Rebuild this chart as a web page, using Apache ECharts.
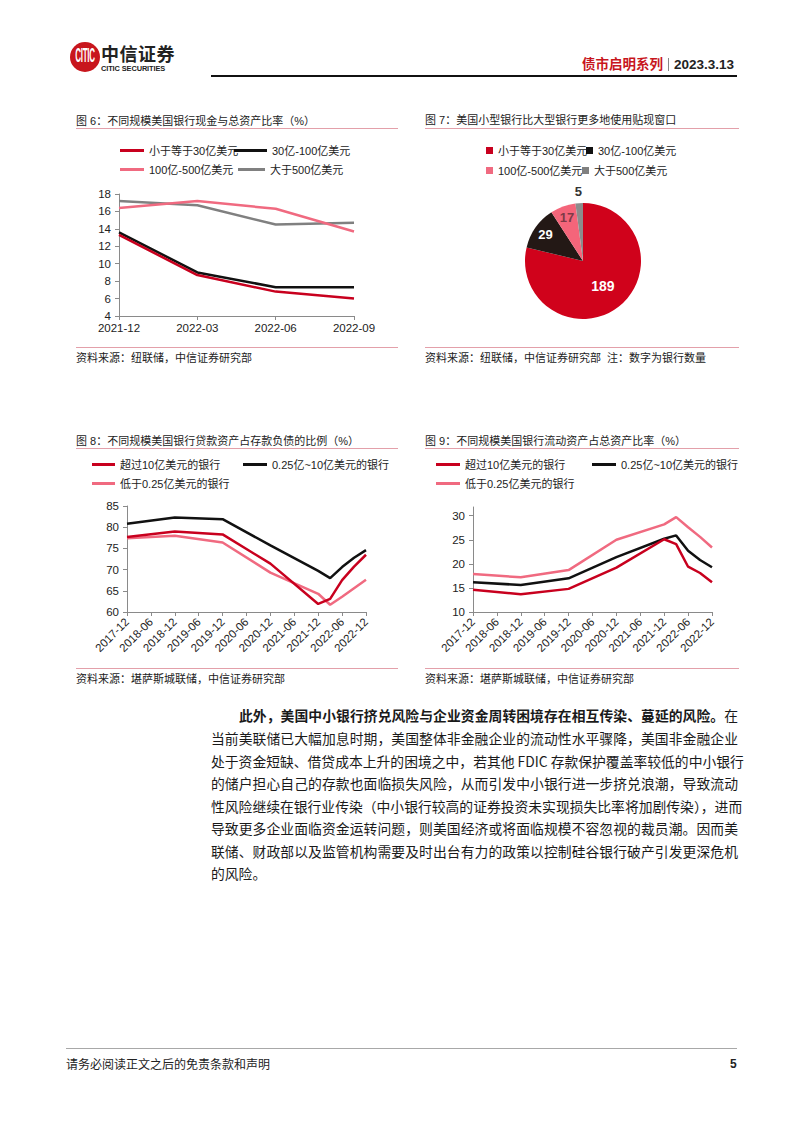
<!DOCTYPE html>
<html>
<head>
<meta charset="utf-8">
<script src="https://cdn.jsdelivr.net/npm/echarts@6/dist/echarts.min.js"></script>
<style>
html,body{margin:0;padding:0;background:#fff;}
body{width:802px;height:1133px;position:relative;overflow:hidden;font-family:"Noto Sans CJK SC","Liberation Sans",sans-serif;color:#222;}
#chart{position:absolute;left:0;top:0;width:802px;height:1133px;}
.abs{position:absolute;white-space:nowrap;}
.t11{font-size:11px;line-height:14px;height:14px;font-family:"Liberation Sans","Noto Sans CJK SC",sans-serif;color:#222;}
.hr{position:absolute;height:0;}
.para{position:absolute;left:211px;width:527px;height:22px;line-height:22px;font-size:13.8px;text-align:justify;text-align-last:justify;white-space:nowrap;color:#1a1a1a;}
</style>
</head>
<body>
<div id="chart"></div>

<!-- header -->
<div class="abs" style="left:70px;top:42px;width:30px;height:30px;border-radius:50%;background:#C8161D;overflow:hidden;">
  <div style="position:absolute;left:0;top:9px;width:30px;text-align:center;color:#fff;font:bold 8px 'Liberation Sans Narrow','Liberation Sans',sans-serif;letter-spacing:-0.3px;transform:scaleY(2.6);">CITIC</div>
</div>
<div class="abs" style="left:101px;top:44px;font-size:18px;line-height:19px;height:19px;font-weight:bold;color:#222;letter-spacing:0.5px;">中信证券</div>
<div class="abs" style="left:101px;top:64px;font:bold 7.4px/9px 'Liberation Sans Narrow','Liberation Sans',sans-serif;color:#222;letter-spacing:-0.1px;">CITIC SECURITIES</div>
<div class="abs" style="right:68px;top:54px;line-height:18px;font-size:13.5px;">
  <span style="color:#C8161D;font-weight:bold;">债市启明系列</span><span style="display:inline-block;width:1px;height:13px;background:#888;margin:0 5px;vertical-align:-2px;"></span><span style="font-weight:bold;font-family:'Liberation Sans Narrow','Liberation Sans',sans-serif;font-size:13.5px;color:#222;">2023.3.13</span>
</div>
<div class="hr" style="left:211px;top:75px;width:526px;border-top:2.5px solid #111;"></div>

<!-- chart titles / sources -->
<div class="abs t11" style="left:76px;top:114px;">图 6：不同规模美国银行现金与总资产比率（%）</div>
<div class="hr" style="left:76px;top:128px;width:322px;border-top:1px solid #E3A0AA;"></div>
<div class="abs t11" style="left:425px;top:113px;">图 7：美国小型银行比大型银行更多地使用贴现窗口</div>
<div class="hr" style="left:425px;top:128px;width:314px;border-top:1px solid #E3A0AA;"></div>

<div class="hr" style="left:76px;top:347px;width:322px;border-top:1px solid #E3A0AA;"></div>
<div class="abs t11" style="left:76px;top:351px;">资料来源：纽联储，中信证券研究部</div>
<div class="hr" style="left:425px;top:347px;width:314px;border-top:1px solid #E3A0AA;"></div>
<div class="abs t11" style="left:425px;top:351px;">资料来源：纽联储，中信证券研究部&nbsp;&nbsp;注：数字为银行数量</div>

<div class="abs t11" style="left:76px;top:434px;">图 8：不同规模美国银行贷款资产占存款负债的比例（%）</div>
<div class="hr" style="left:76px;top:448px;width:322px;border-top:1px solid #E3A0AA;"></div>
<div class="abs t11" style="left:425px;top:434px;">图 9：不同规模美国银行流动资产占总资产比率（%）</div>
<div class="hr" style="left:425px;top:448px;width:314px;border-top:1px solid #E3A0AA;"></div>

<div class="hr" style="left:76px;top:668px;width:322px;border-top:1px solid #E3A0AA;"></div>
<div class="abs t11" style="left:76px;top:672px;">资料来源：堪萨斯城联储，中信证券研究部</div>
<div class="hr" style="left:425px;top:668px;width:314px;border-top:1px solid #E3A0AA;"></div>
<div class="abs t11" style="left:425px;top:672px;">资料来源：堪萨斯城联储，中信证券研究部</div>

<!-- paragraph -->
<div class="para" style="left:239px;width:499px;top:704px;"><b>此外，美国中小银行挤兑风险与企业资金周转困境存在相互传染、蔓延的风险。</b>在</div>
<div class="para" style="top:727px;">当前美联储已大幅加息时期，美国整体非金融企业的流动性水平骤降，美国非金融企业</div>
<div class="para" style="top:750px;">处于资金短缺、借贷成本上升的困境之中，若其他 FDIC 存款保护覆盖率较低的中小银行</div>
<div class="para" style="top:772px;">的储户担心自己的存款也面临损失风险，从而引发中小银行进一步挤兑浪潮，导致流动</div>
<div class="para" style="top:795px;">性风险继续在银行业传染（中小银行较高的证券投资未实现损失比率将加剧传染），进而</div>
<div class="para" style="top:817px;">导致更多企业面临资金运转问题，则美国经济或将面临规模不容忽视的裁员潮。因而美</div>
<div class="para" style="top:840px;">联储、财政部以及监管机构需要及时出台有力的政策以控制硅谷银行破产引发更深危机</div>
<div class="para" style="top:862px;text-align:left;text-align-last:left;">的风险。</div>

<!-- footer -->
<div class="hr" style="left:66px;top:1048px;width:671px;border-top:1.5px solid #A8A8A8;"></div>
<div class="abs" style="left:66px;top:1056px;font-size:12px;line-height:16px;color:#222;">请务必阅读正文之后的免责条款和声明</div>
<div class="abs" style="left:730px;top:1056px;font:bold 12px/16px 'Liberation Sans',sans-serif;color:#222;">5</div>

<script>
// ---------- data ----------
const fig6Categories = ['2021-12', '2022-03', '2022-06', '2022-09'];
const fig6SeriesNames = ['小于等于30亿美元', '30亿-100亿美元', '100亿-500亿美元', '大于500亿美元'];
const fig6Under30 = [13.3, 8.7, 6.8, 6.0];
const fig6From30To100 = [13.6, 9.0, 7.3, 7.3];
const fig6From100To500 = [16.4, 17.2, 16.3, 13.7];
const fig6Over500 = [17.2, 16.7, 14.5, 14.7];

const fig7Names = ['小于等于30亿美元', '30亿-100亿美元', '100亿-500亿美元', '大于500亿美元'];
const fig7BankCounts = [189, 29, 17, 5];

const fig89Quarters = ['2017-12', '2018-03', '2018-06', '2018-09', '2018-12', '2019-03', '2019-06', '2019-09',
  '2019-12', '2020-03', '2020-06', '2020-09', '2020-12', '2021-03', '2021-06', '2021-09', '2021-12',
  '2022-03', '2022-06', '2022-09', '2022-12'];
const fig89SeriesNames = ['超过10亿美元的银行', '0.25亿~10亿美元的银行', '低于0.25亿美元的银行'];

const fig8Over10 = [77.7, null, null, null, 79.0, null, null, null, 78.3, null, null, null, 71.4, null, null, null, 61.9, 63.1, 67.5, 70.7, 73.5];
const fig8Mid = [80.8, null, null, null, 82.3, null, null, null, 81.9, null, null, null, 75.7, null, null, null, 69.7, 68.0, 70.6, 72.8, 74.6];
const fig8Under025 = [77.4, null, null, null, 78.0, null, null, null, 76.4, null, null, null, 69.3, null, null, null, 64.3, 61.7, 63.6, 65.6, 67.6];

const fig9Over10 = [14.6, null, null, null, 13.7, null, null, null, 14.8, null, null, null, 19.2, null, null, null, 25.1, 24.1, 19.4, 18.1, 16.2];
const fig9Mid = [16.2, null, null, null, 15.6, null, null, null, 17.0, null, null, null, 21.4, null, null, null, 25.2, 25.9, 22.7, 20.8, 19.3];
const fig9Under025 = [17.9, null, null, null, 17.2, null, null, null, 18.7, null, null, null, 25.0, null, null, null, 28.2, 29.7, 27.6, 25.6, 23.4];

// ---------- style ----------
const RED = '#C8001E', BLACK = '#111111', PINK = '#F06A80', GRAY = '#808080';
const PIE_RED = '#D0021B', PIE_BLACK = '#231815', PIE_PINK = '#F4657A', PIE_GRAY = '#8C8C8C';
const FONT = '"Liberation Sans","Noto Sans CJK SC",sans-serif';
const AXIS = '#8A8A8A';

function lineLegend(name, left, top, w) {
  return {
    data: [name], left: left, top: top, padding: 0, itemGap: 0, selectedMode: false,
    icon: 'rect', itemWidth: w, itemHeight: 3,
    textStyle: { fontSize: 11, color: '#222', fontFamily: FONT }
  };
}
function boxLegend(name, left, top) {
  return {
    data: [name], left: left, top: top, padding: 0, itemGap: 0, selectedMode: false,
    icon: 'rect', itemWidth: 7, itemHeight: 7,
    textStyle: { fontSize: 11, color: '#222', fontFamily: FONT }
  };
}
function lineSeries(name, data, color, gi) {
  return {
    type: 'line', name: name, data: data, xAxisIndex: gi, yAxisIndex: gi,
    symbol: 'none', connectNulls: true, smooth: false, silent: true,
    lineStyle: { color: color, width: 2.5 }, itemStyle: { color: color }
  };
}
function catAxis(gi, data, rotated) {
  return {
    type: 'category', gridIndex: gi, data: data, boundaryGap: false,
    axisLine: { lineStyle: { color: AXIS, width: 1 } },
    axisTick: { show: true, length: 4, interval: rotated ? 1 : 0, lineStyle: { color: AXIS } },
    axisLabel: {
      interval: rotated ? 1 : 0, rotate: rotated ? 45 : 0, margin: rotated ? 8 : 6,
      fontSize: 11.5, lineHeight: 11, color: '#222', fontFamily: FONT
    },
    splitLine: { show: false }
  };
}
function valAxis(gi, min, max, interval) {
  return {
    type: 'value', gridIndex: gi, min: min, max: max, interval: interval,
    axisLine: { show: true, lineStyle: { color: AXIS, width: 1 } },
    axisTick: { show: true, length: 4, lineStyle: { color: AXIS } },
    axisLabel: { fontSize: 11.5, lineHeight: 11, color: '#222', fontFamily: FONT, margin: 8, showMaxLabel: max % interval === 0 },
    splitLine: { show: false }
  };
}

const pieColors = [PIE_RED, PIE_BLACK, PIE_PINK, PIE_GRAY];
const labelFont = { fontFamily: FONT, fontWeight: 'bold' };

const pieMain = {
  type: 'pie', center: [583, 261], radius: [0, 58], startAngle: 90, clockwise: true,
  avoidLabelOverlap: false, silent: true, labelLine: { show: false },
  data: fig7Names.map((n, i) => ({
    name: n, value: fig7BankCounts[i], itemStyle: { color: pieColors[i] },
    label: i === 0
      ? Object.assign({ show: true, position: 'inside', formatter: '{c}', color: '#fff', fontSize: 14 }, labelFont)
      : { show: false }
  }))
};
const pieLabelsInner = {
  type: 'pie', center: [583, 261], radius: [0, 86], startAngle: 90, clockwise: true,
  avoidLabelOverlap: false, silent: true, labelLine: { show: false }, legendHoverLink: false,
  data: fig7Names.map((n, i) => ({
    name: n, value: fig7BankCounts[i], itemStyle: { color: 'rgba(0,0,0,0)' },
    label: (i === 1 || i === 2)
      ? Object.assign({ show: true, position: 'inside', formatter: '{c}', color: i === 1 ? '#fff' : '#7E3A47', fontSize: 13 }, labelFont)
      : { show: false }
  }))
};
const pieLabelsOuter = {
  type: 'pie', center: [583, 261], radius: [58, 76], startAngle: 90, clockwise: true,
  avoidLabelOverlap: false, silent: true, labelLine: { show: false }, legendHoverLink: false,
  data: fig7Names.map((n, i) => ({
    name: n, value: fig7BankCounts[i], itemStyle: { color: 'rgba(0,0,0,0)' },
    label: i === 3
      ? Object.assign({ show: true, position: 'inside', formatter: '{c}', color: '#333', fontSize: 13 }, labelFont)
      : { show: false }
  }))
};

const option = {
  animation: false,
  backgroundColor: 'transparent',
  grid: [
    { left: 119, top: 194, width: 235, height: 122 },
    { left: 127, top: 506, width: 239, height: 106 },
    { left: 473, top: 507, width: 239, height: 105 }
  ],
  xAxis: [
    catAxis(0, fig6Categories, false),
    catAxis(1, fig89Quarters, true),
    catAxis(2, fig89Quarters, true)
  ],
  yAxis: [
    valAxis(0, 4, 18, 2),
    valAxis(1, 60, 85, 5),
    valAxis(2, 10, 31.8, 5)
  ],
  legend: [
    lineLegend(fig6SeriesNames[0], 120, 145, 24),
    lineLegend(fig6SeriesNames[1], 234, 145, 33),
    lineLegend(fig6SeriesNames[2], 120, 164, 24),
    lineLegend(fig6SeriesNames[3], 238, 164, 27),
    boxLegend(fig7Names[0], 486, 145),
    boxLegend(fig7Names[1], 586, 145),
    boxLegend(fig7Names[2], 486, 165),
    boxLegend(fig7Names[3], 582, 165),
    lineLegend(fig89SeriesNames[0], 92, 459, 23),
    lineLegend(fig89SeriesNames[1], 243, 459, 24),
    lineLegend(fig89SeriesNames[2], 92, 478, 23),
    lineLegend(fig89SeriesNames[0], 436, 459, 24),
    lineLegend(fig89SeriesNames[1], 592, 459, 24),
    lineLegend(fig89SeriesNames[2], 436, 478, 24)
  ],
  series: [
    lineSeries(fig6SeriesNames[3], fig6Over500, GRAY, 0),
    lineSeries(fig6SeriesNames[2], fig6From100To500, PINK, 0),
    lineSeries(fig6SeriesNames[1], fig6From30To100, BLACK, 0),
    lineSeries(fig6SeriesNames[0], fig6Under30, RED, 0),
    lineSeries(fig89SeriesNames[2], fig8Under025, PINK, 1),
    lineSeries(fig89SeriesNames[1], fig8Mid, BLACK, 1),
    lineSeries(fig89SeriesNames[0], fig8Over10, RED, 1),
    lineSeries(fig89SeriesNames[2], fig9Under025, PINK, 2),
    lineSeries(fig89SeriesNames[1], fig9Mid, BLACK, 2),
    lineSeries(fig89SeriesNames[0], fig9Over10, RED, 2),
    pieMain, pieLabelsInner, pieLabelsOuter
  ]
};

const chart = echarts.init(document.getElementById('chart'), null, { renderer: 'svg', width: 802, height: 1133 });
chart.setOption(option);
</script>
</body>
</html>
